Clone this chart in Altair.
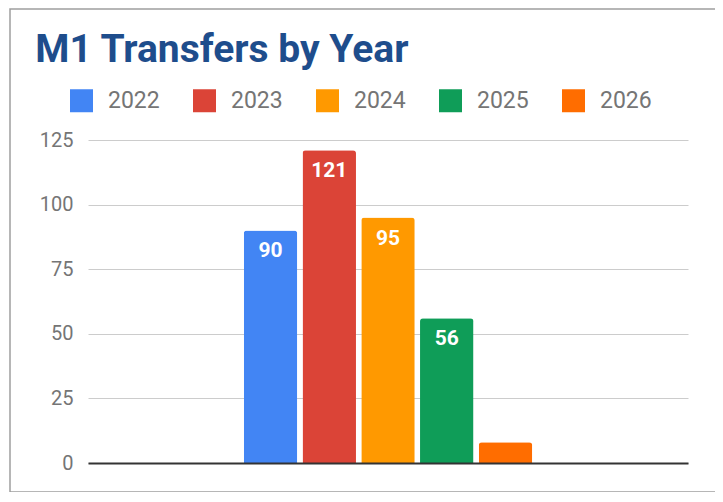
import altair as alt
import pandas as pd

years = ["2022", "2023", "2024", "2025", "2026"]
transfers = [90, 121, 95, 56, 8]
colors = ["#4285f4", "#db4437", "#ff9900", "#0f9d58", "#ff6d00"]
y_ticks = [0, 25, 50, 75, 100, 125]
title_text = "M1 Transfers by Year"

df = pd.DataFrame({"group": ["M1"] * len(years), "year": years, "transfers": transfers})
frame_df = pd.DataFrame({"k": [0]})

FONT = "Roboto"

x_enc = alt.X(
    "group:N",
    scale=alt.Scale(paddingOuter=0.54, paddingInner=0),
    axis=alt.Axis(labels=False, ticks=False, title=None, domain=True,
                  domainColor="#333333", domainWidth=2, grid=False, zindex=1),
)
xo_enc = alt.XOffset("year:N", scale=alt.Scale(paddingInner=0.09, paddingOuter=0))
y_enc = alt.Y(
    "transfers:Q",
    scale=alt.Scale(domain=[0, 125], nice=False),
    axis=alt.Axis(values=y_ticks, title=None, domain=False, ticks=False,
                  labelPadding=15, labelFontSize=20, labelColor="#757575",
                  labelFont=FONT, gridColor="#cccccc", gridWidth=1),
)

bars = alt.Chart(df).mark_bar(cornerRadiusTopLeft=3, cornerRadiusTopRight=3).encode(
    x=x_enc, xOffset=xo_enc, y=y_enc,
    color=alt.Color(
        "year:N",
        scale=alt.Scale(domain=years, range=colors),
        legend=alt.Legend(
            title=None, orient="none", legendX=-18, legendY=-51,
            direction="horizontal", columns=5, symbolType="square",
            symbolSize=529, symbolStrokeWidth=0, labelFontSize=23,
            labelColor="#757575", labelFont=FONT, labelOffset=15,
            columnPadding=33,
        ),
    ),
)

labels = alt.Chart(df).transform_filter("datum.transfers >= 20").mark_text(
    color="white", fontWeight="bold", fontSize=21, font=FONT,
    baseline="middle", dy=21,
).encode(x=x_enc, xOffset=xo_enc, y=y_enc, text="transfers:Q")

frame = alt.Chart(frame_df).mark_rect(
    fill="transparent", stroke="#9e9e9e", strokeWidth=1.5
).encode(
    x=alt.value(-78), x2=alt.value(630), y=alt.value(-131), y2=alt.value(352)
)

chart = alt.layer(frame, bars, labels).properties(
    width=600, height=323,
    padding={"left": 80, "top": 132, "right": 27, "bottom": 29},
    autosize=alt.AutoSizeParams(type="none"),
    background="white",
    title=alt.TitleParams(
        title_text, anchor="start", fontSize=39, fontWeight="bold",
        color="#1e4d8c", font=FONT, dx=26, offset=0, dy=93,
        baseline="alphabetic",
    ),
).configure_view(stroke=None)

chart.save("out.html", embed_options={"renderer": "svg", "actions": False})
